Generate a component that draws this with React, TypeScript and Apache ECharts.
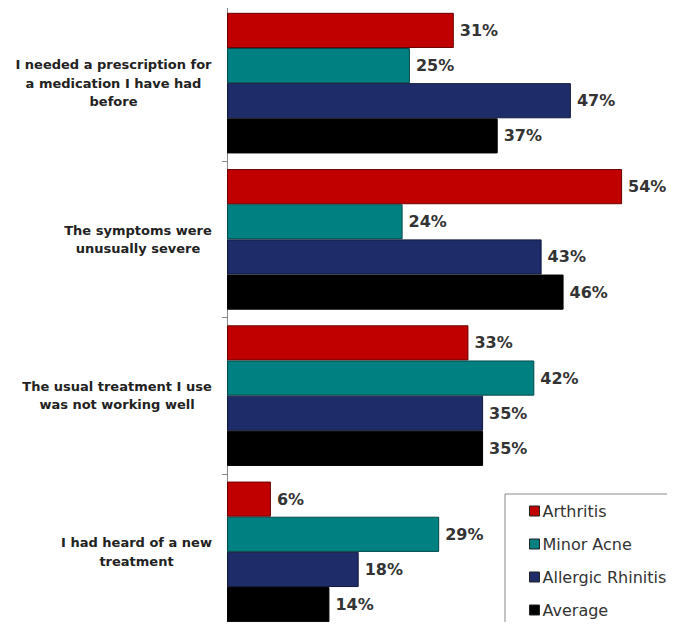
import React, { useEffect, useRef } from "react";
import * as echarts from "echarts";

const categories = [
  "I needed a prescription for\na medication I have had\nbefore",
  "The symptoms were\nunusually severe",
  "The usual treatment I use\nwas not working well",
  "I had heard of a new\ntreatment",
];
const seriesNames = ["Arthritis", "Minor Acne", "Allergic Rhinitis", "Average"];
const arthritis = [31, 54, 33, 6];
const minorAcne = [25, 24, 42, 29];
const allergicRhinitis = [47, 43, 35, 18];
const average = [37, 46, 35, 14];
const colors = ["#C00000", "#008080", "#1F2C6A", "#000000"];
const borders = ["#6a0000", "#004848", "#10183c", "#000000"];

const FONT = '"DejaVu Sans", Verdana, sans-serif';

function measure(text: string, font: string): number {
  const c = document.createElement("canvas").getContext("2d");
  if (!c) return text.length * 8;
  c.font = font;
  return c.measureText(text).width;
}

export default function App() {
  const ref = useRef<HTMLDivElement>(null);
  useEffect(() => {
    if (!ref.current) return;
    const chart = echarts.init(ref.current, undefined, { renderer: "svg" });
    const data = [arthritis, minorAcne, allergicRhinitis, average];
    const catFont = `bold 13px ${FONT}`;
    const rich: Record<string, any> = {};
    categories.forEach((c, i) => {
      const w = Math.ceil(Math.max(...c.split("\n").map((l) => measure(l, catFont))));
      rich["r" + i] = {
        width: w,
        align: "center",
        fontFamily: FONT,
        fontSize: 13,
        fontWeight: "bold",
        color: "#222222",
        lineHeight: 18.5,
      };
    });
    chart.setOption({
      animation: false,
      textStyle: { fontFamily: FONT },
      grid: { left: 227, right: 9, top: 5, bottom: 0, containLabel: false },
      xAxis: {
        type: "value",
        min: 0,
        max: 60,
        show: false,
        splitLine: { show: false },
      },
      yAxis: {
        type: "category",
        inverse: true,
        data: categories,
        axisLine: { show: true, lineStyle: { color: "#888888", width: 1 } },
        axisTick: { show: true, length: 5, lineStyle: { color: "#888888" } },
        axisLabel: {
          align: "right",
          margin: 15,
          formatter: (value: string, index: number) =>
            value
              .split("\n")
              .map((l) => `{r${index}|${l}}`)
              .join("\n"),
          rich,
        },
      },
      legend: {
        orient: "vertical",
        left: 505,
        bottom: 3,
        padding: [9, 3, 9, 24],
        itemWidth: 10,
        itemHeight: 10,
        itemGap: 17,
        borderColor: "#888888",
        borderWidth: 1,
        backgroundColor: "#ffffff",
        icon: "rect",
        itemStyle: { borderColor: "#222222", borderWidth: 1 },
        textStyle: { fontFamily: FONT, fontSize: 16, color: "#333333", padding: [0, 0, 0, -2] },
        data: seriesNames,
      },
      series: seriesNames.map((name, i) => ({
        name,
        type: "bar",
        data: data[i],
        barGap: "0%",
        barCategoryGap: "10%",
        itemStyle: { color: colors[i], borderColor: borders[i], borderWidth: 1 },
        label: {
          show: true,
          position: "right",
          distance: 6,
          formatter: "{c}%",
          fontFamily: FONT,
          fontSize: 16,
          fontWeight: "bold",
          color: "#333333",
        },
      })),
    });
    return () => chart.dispose();
  }, []);
  return <div ref={ref} style={{ width: 675, height: 630, margin: -8 }} />;
}
